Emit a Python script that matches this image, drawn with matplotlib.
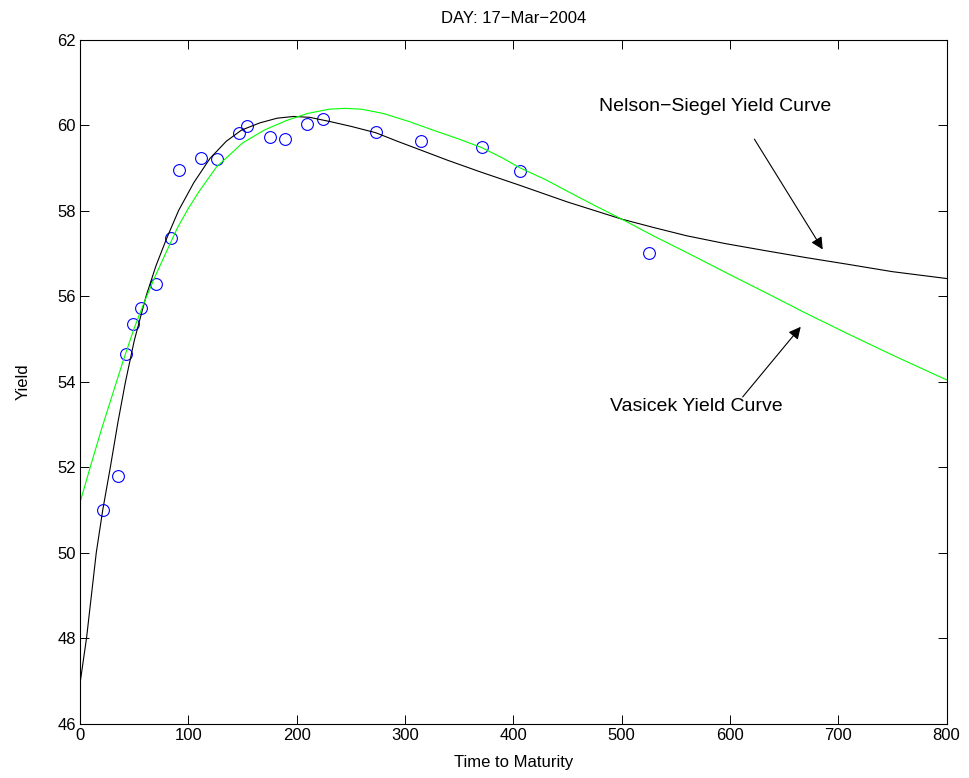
#!/usr/bin/env python3

import numpy as np
import matplotlib
matplotlib.use("Agg")
import matplotlib.pyplot as plt

plt.rcParams['font.family'] = ['Liberation Sans', 'DejaVu Sans']

# observed yields (maturity in days)
mat = [21, 35, 42, 49, 56, 70, 84, 91, 112, 126, 147, 154, 175, 189,
       210, 224, 273, 315, 371, 406, 525]
yld = [51.0, 51.79, 54.64, 55.34, 55.73, 56.27, 57.35, 58.95, 59.23, 59.20,
       59.82, 59.98, 59.73, 59.68, 60.03, 60.15, 59.84, 59.63, 59.48, 58.92,
       57.0]

# Nelson-Siegel curve
ns_t = [0, 6, 15, 21, 28, 35, 42, 50, 61, 70, 80, 91, 105, 120, 135, 149,
        166, 182, 197, 212, 231, 250, 273, 293, 315, 340, 370, 406, 450,
        500, 530, 560, 595, 633, 670, 707, 750, 800]
ns_y = [46.94, 48.0, 50.0, 51.0, 52.0, 53.05, 54.0, 54.95, 56.0, 56.7,
        57.35, 58.0, 58.65, 59.22, 59.62, 59.88, 60.05, 60.16, 60.2, 60.18,
        60.08, 59.97, 59.82, 59.62, 59.41, 59.17, 58.9, 58.59, 58.2, 57.8,
        57.6, 57.41, 57.23, 57.06, 56.9, 56.75, 56.57, 56.41]

# Vasicek curve
vs_t = [0, 10, 20, 30, 40, 50, 60, 70, 80, 90, 100, 110, 126, 150, 170,
        190, 210, 230, 245, 260, 280, 304, 326, 350, 371, 390, 406, 430,
        450, 475, 500, 530, 560, 600, 633, 670, 707, 750, 800]
vs_y = [51.17, 52.05, 52.9, 53.7, 54.5, 55.25, 55.9, 56.5, 57.05, 57.6,
        58.05, 58.45, 59.02, 59.58, 59.88, 60.1, 60.27, 60.37, 60.39, 60.37,
        60.27, 60.08, 59.88, 59.67, 59.47, 59.23, 59.0, 58.72, 58.45, 58.12,
        57.8, 57.4, 57.02, 56.5, 56.08, 55.6, 55.14, 54.62, 54.04]

fig = plt.figure(figsize=(9.69, 7.78), dpi=100)
ax = fig.add_axes([0.0826, 0.070, 0.8942, 0.8792])

ax.plot(mat, yld, 'o', mfc='none', mec='b', ms=8.5, mew=0.8)
ax.plot(ns_t, ns_y, 'k-', lw=0.8)
ax.plot(vs_t, vs_y, '-', color='#00ff00', lw=0.8)

ax.set_xlim(0, 800)
ax.set_ylim(46, 62)
ax.set_xticks(np.arange(0, 801, 100))
ax.set_yticks(np.arange(46, 63, 2))
ax.tick_params(direction='in', length=6.5, width=0.7, top=True, right=True,
               labelsize=12, pad=3)
for s in ax.spines.values():
    s.set_linewidth(0.8)

ax.set_title('DAY: 17\u2212Mar\u22122004', fontsize=12, pad=12)
ax.set_xlabel('Time to Maturity', fontsize=12, labelpad=9)
ax.set_ylabel('Yield', fontsize=12, labelpad=19)

ax.annotate('', xy=(685.7, 57.09), xytext=(622.6, 59.67),
            arrowprops=dict(arrowstyle='-|>', color='k', lw=0.8,
                            mutation_scale=18, shrinkA=0, shrinkB=0))
ax.text(479.5, 60.43, 'Nelson\u2212Siegel Yield Curve', fontsize=14,
        ha='left', va='center')

ax.annotate('', xy=(665.4, 55.28), xytext=(611.8, 53.64),
            arrowprops=dict(arrowstyle='-|>', color='k', lw=0.8,
                            mutation_scale=18, shrinkA=0, shrinkB=0))
ax.text(489.7, 53.41, 'Vasicek Yield Curve', fontsize=14,
        ha='left', va='center')

fig.savefig('out.png', dpi=100)
